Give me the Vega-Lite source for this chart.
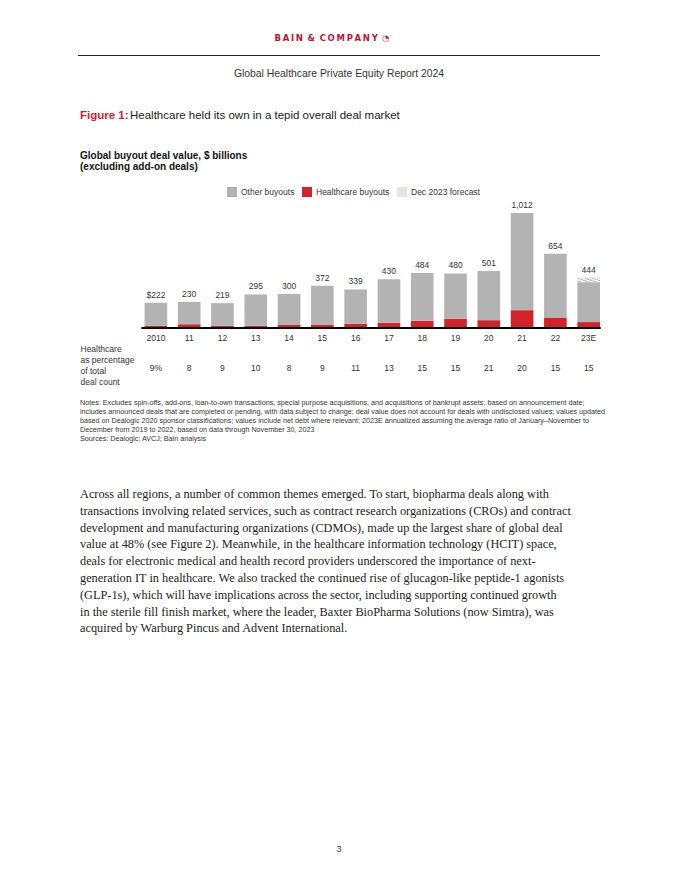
{
  "$schema": "https://vega.github.io/schema/vega-lite/v6.json",
  "background": "white",
  "padding": {"left": 78, "top": 33, "right": 0, "bottom": 0},
  "config": {
    "view": {"stroke": null},
    "font": "Liberation Sans",
    "title": {"font": "Liberation Sans", "color": "#222", "fontWeight": "normal"}
  },
  "datasets": {
    "deals": [
      {"year": "2010", "healthcare": 20, "actual": 222, "total": 222, "label": "$222", "pct": "9%"},
      {"year": "11", "healthcare": 33, "actual": 230, "total": 230, "label": "230", "pct": "8"},
      {"year": "12", "healthcare": 20, "actual": 219, "total": 219, "label": "219", "pct": "9"},
      {"year": "13", "healthcare": 20, "actual": 295, "total": 295, "label": "295", "pct": "10"},
      {"year": "14", "healthcare": 30, "actual": 300, "total": 300, "label": "300", "pct": "8"},
      {"year": "15", "healthcare": 30, "actual": 372, "total": 372, "label": "372", "pct": "9"},
      {"year": "16", "healthcare": 37, "actual": 339, "total": 339, "label": "339", "pct": "11"},
      {"year": "17", "healthcare": 46, "actual": 430, "total": 430, "label": "430", "pct": "13"},
      {"year": "18", "healthcare": 63, "actual": 484, "total": 484, "label": "484", "pct": "15"},
      {"year": "19", "healthcare": 81, "actual": 480, "total": 480, "label": "480", "pct": "15"},
      {"year": "20", "healthcare": 69, "actual": 501, "total": 501, "label": "501", "pct": "21"},
      {"year": "21", "healthcare": 157, "actual": 1012, "total": 1012, "label": "1,012", "pct": "20"},
      {"year": "22", "healthcare": 89, "actual": 654, "total": 654, "label": "654", "pct": "15"},
      {"year": "23E", "healthcare": 52, "actual": 403, "total": 444, "label": "444", "pct": "15"}
    ]
  },
  "spacing": 0,
  "resolve": {"legend": {"color": "independent"}, "scale": {"color": "independent"}},
  "vconcat": [
    {
      "width": 522, "height": 1,
      "data": {"values": []},
      "mark": "rect",
      "view": {"fill": "#222", "stroke": null},
      "title": {
        "text": "B\u2009A\u2009I\u2009N \u2009&\u2009 C\u2009O\u2009M\u2009P\u2009A\u2009N\u2009Y\u2002\u25D4",
        "anchor": "middle", "color": "#c8102e", "font": "DejaVu Sans",
        "fontSize": 8.5, "fontWeight": "bold", "offset": 13, "dx": -7
      }
    },
    {
      "width": 522, "height": 10,
      "data": {"values": []},
      "mark": "rect",
      "title": {
        "text": "Global Healthcare Private Equity Report 2024",
        "orient": "bottom", "anchor": "middle", "fontSize": 10.4, "color": "#333", "offset": 3
      }
    },
    {
      "spacing": 0,
      "hconcat": [
        {
          "width": 49, "height": 28,
          "data": {"values": []},
          "mark": "rect",
          "title": {
            "text": "Figure 1:", "orient": "bottom", "anchor": "start", "frame": "group",
            "fontSize": 11.5, "fontWeight": "bold", "color": "#d0202e", "offset": 2, "dx": 2
          }
        },
        {
          "width": 473, "height": 28,
          "data": {"values": []},
          "mark": "rect",
          "title": {
            "text": "Healthcare held its own in a tepid overall deal market",
            "orient": "bottom", "anchor": "start", "frame": "group",
            "fontSize": 11.5, "color": "#222", "offset": 2, "dx": 1
          }
        }
      ]
    },
    {
      "width": 522, "height": 28,
      "data": {"values": []},
      "mark": "rect"
    },
    {
      "width": 522, "height": 125,
      "data": {"name": "deals"},
      "title": {
        "text": ["Global buyout deal value, $ billions", "(excluding add-on deals)"],
        "anchor": "start", "frame": "group", "fontSize": 10, "fontWeight": "bold",
        "color": "#111", "lineHeight": 11.5, "offset": 15, "dx": 2
      },
      "encoding": {
        "x": {
          "field": "year", "type": "nominal", "sort": null,
          "scale": {"type": "band", "paddingInner": 0.32, "paddingOuter": 1.015, "align": 1},
          "axis": {
            "title": null, "labelAngle": 0, "ticks": false, "domain": false, "labelPadding": 5,
            "labelFontSize": 8.5, "labelColor": "#333"
          }
        }
      },
      "layer": [
        {
          "mark": "bar",
          "encoding": {
            "y": {
              "field": "healthcare", "type": "quantitative",
              "scale": {"domain": [0, 1080]},
              "axis": null
            },
            "color": {
              "datum": "Healthcare buyouts", "type": "nominal",
              "scale": {
                "domain": ["Other buyouts", "Healthcare buyouts", "Dec 2023 forecast"],
                "range": ["#b3b3b3", "#d3222a", "#e4e4e4"]
              },
              "legend": {
                "orient": "none", "legendX": 149, "legendY": -16,
                "direction": "horizontal", "title": null,
                "symbolType": "square", "symbolSize": 100, "symbolStrokeWidth": 0,
                "labelFontSize": 8.5, "labelColor": "#333", "columnPadding": 7,
                "labelOffset": 4,
                "encode": {
                  "symbols": {
                    "update": {
                      "fill": [
                        {"test": "datum.value === 'Other buyouts'", "value": "#b3b3b3"},
                        {"test": "datum.value === 'Healthcare buyouts'", "value": "#d3222a"},
                        {"value": {
                          "gradient": "linear", "x1": 0, "y1": 0, "x2": 1, "y2": 1,
                          "stops": [
                            {"offset": 0, "color": "#f2f2f2"}, {"offset": 0.1, "color": "#f2f2f2"},
                            {"offset": 0.1, "color": "#c4c4c4"}, {"offset": 0.1667, "color": "#c4c4c4"},
                            {"offset": 0.1667, "color": "#f2f2f2"}, {"offset": 0.2667, "color": "#f2f2f2"},
                            {"offset": 0.2667, "color": "#c4c4c4"}, {"offset": 0.3333, "color": "#c4c4c4"},
                            {"offset": 0.3333, "color": "#f2f2f2"}, {"offset": 0.4333, "color": "#f2f2f2"},
                            {"offset": 0.4333, "color": "#c4c4c4"}, {"offset": 0.5, "color": "#c4c4c4"},
                            {"offset": 0.5, "color": "#f2f2f2"}, {"offset": 0.6, "color": "#f2f2f2"},
                            {"offset": 0.6, "color": "#c4c4c4"}, {"offset": 0.6667, "color": "#c4c4c4"},
                            {"offset": 0.6667, "color": "#f2f2f2"}, {"offset": 0.7667, "color": "#f2f2f2"},
                            {"offset": 0.7667, "color": "#c4c4c4"}, {"offset": 0.8333, "color": "#c4c4c4"},
                            {"offset": 0.8333, "color": "#f2f2f2"}, {"offset": 0.9333, "color": "#f2f2f2"},
                            {"offset": 0.9333, "color": "#c4c4c4"}, {"offset": 1, "color": "#c4c4c4"}
                          ]
                        }}
                      ]
                    }
                  }
                }
              }
            }
          }
        },
        {
          "mark": "bar",
          "encoding": {
            "y": {"field": "actual", "type": "quantitative"},
            "y2": {"field": "healthcare"},
            "color": {"datum": "Other buyouts", "type": "nominal"}
          }
        },
        {
          "transform": [{"filter": "datum.total > datum.actual"}],
          "mark": {
            "type": "bar",
            "color": {
              "gradient": "linear", "x1": 0, "y1": 0, "x2": 1, "y2": 1,
              "stops": [
                {"offset": 0, "color": "#f2f2f2"}, {"offset": 0.1, "color": "#f2f2f2"},
                {"offset": 0.1, "color": "#c4c4c4"}, {"offset": 0.1667, "color": "#c4c4c4"},
                {"offset": 0.1667, "color": "#f2f2f2"}, {"offset": 0.2667, "color": "#f2f2f2"},
                {"offset": 0.2667, "color": "#c4c4c4"}, {"offset": 0.3333, "color": "#c4c4c4"},
                {"offset": 0.3333, "color": "#f2f2f2"}, {"offset": 0.4333, "color": "#f2f2f2"},
                {"offset": 0.4333, "color": "#c4c4c4"}, {"offset": 0.5, "color": "#c4c4c4"},
                {"offset": 0.5, "color": "#f2f2f2"}, {"offset": 0.6, "color": "#f2f2f2"},
                {"offset": 0.6, "color": "#c4c4c4"}, {"offset": 0.6667, "color": "#c4c4c4"},
                {"offset": 0.6667, "color": "#f2f2f2"}, {"offset": 0.7667, "color": "#f2f2f2"},
                {"offset": 0.7667, "color": "#c4c4c4"}, {"offset": 0.8333, "color": "#c4c4c4"},
                {"offset": 0.8333, "color": "#f2f2f2"}, {"offset": 0.9333, "color": "#f2f2f2"},
                {"offset": 0.9333, "color": "#c4c4c4"}, {"offset": 1, "color": "#c4c4c4"}
              ]
            }
          },
          "encoding": {
            "y": {"field": "total", "type": "quantitative"},
            "y2": {"field": "actual"}
          }
        },
        {
          "mark": {"type": "rule", "color": "#000", "strokeWidth": 1, "xOffset": -14, "x2Offset": 11.5},
          "encoding": {
            "x": {"datum": "2010", "type": "nominal"},
            "x2": {"datum": "23E"},
            "y": {"datum": 0, "type": "quantitative"}
          }
        },
        {
          "mark": {"type": "text", "baseline": "bottom", "dy": -3, "fontSize": 8.5, "color": "#333"},
          "encoding": {
            "y": {"field": "total", "type": "quantitative"},
            "text": {"field": "label"}
          }
        }
      ]
    },
    {
      "width": 522, "height": 47,
      "data": {"name": "deals"},
      "mark": {"type": "text", "fontSize": 8.5, "color": "#333", "dy": 2.5},
      "encoding": {
        "x": {
          "field": "year", "type": "nominal", "sort": null,
          "scale": {"type": "band", "paddingInner": 0.32, "paddingOuter": 1.015, "align": 1},
          "axis": null
        },
        "y": {
          "datum": "Healthcare as percentage of total deal count", "type": "nominal",
          "axis": {
            "title": null, "ticks": false, "domain": false, "labelAlign": "left",
            "labelPadding": -2, "labelOffset": -17,
            "labelExpr": "['Healthcare','as percentage','of total','deal count']",
            "labelLineHeight": 11, "labelFontSize": 8.5, "labelColor": "#333",
            "labelBaseline": "middle", "labelLimit": 0
          }
        },
        "text": {"field": "pct"}
      },
      "title": {
        "text": [
          "Notes: Excludes spin-offs, add-ons, loan-to-own transactions, special purpose acquisitions, and acquisitions of bankrupt assets; based on announcement date;",
          "includes announced deals that are completed or pending, with data subject to change; deal value does not account for deals with undisclosed values; values updated",
          "based on Dealogic 2020 sponsor classifications; values include net debt where relevant; 2023E annualized assuming the average ratio of January\u2013November to",
          "December from 2019 to 2022, based on data through November 30, 2023",
          "Sources: Dealogic; AVCJ; Bain analysis"
        ],
        "orient": "bottom", "anchor": "start", "frame": "group",
        "fontSize": 7.2, "lineHeight": 9, "color": "#333", "offset": 10, "dx": 2
      }
    },
    {
      "width": 522, "height": 41,
      "data": {"values": []},
      "mark": "rect",
      "title": {
        "text": [
          "Across all regions, a number of common themes emerged. To start, biopharma deals along with",
          "transactions involving related services, such as contract research organizations (CROs) and contract",
          "development and manufacturing organizations (CDMOs), made up the largest share of global deal",
          "value at 48% (see Figure 2). Meanwhile, in the healthcare information technology (HCIT) space,",
          "deals for electronic medical and health record providers underscored the importance of next-",
          "generation IT in healthcare. We also tracked the continued rise of glucagon-like peptide-1 agonists",
          "(GLP-1s), which will have implications across the sector, including supporting continued growth",
          "in the sterile fill finish market, where the leader, Baxter BioPharma Solutions (now Simtra), was",
          "acquired by Warburg Pincus and Advent International."
        ],
        "orient": "bottom", "anchor": "start", "frame": "group",
        "font": "Liberation Serif", "fontSize": 12.3, "lineHeight": 16.8,
        "color": "#222", "offset": 4, "dx": 2
      }
    },
    {
      "width": 522, "height": 204,
      "data": {"values": []},
      "mark": "rect",
      "title": {
        "text": "3", "orient": "bottom", "anchor": "middle", "fontSize": 9, "color": "#333", "offset": 6
      }
    }
  ]
}
